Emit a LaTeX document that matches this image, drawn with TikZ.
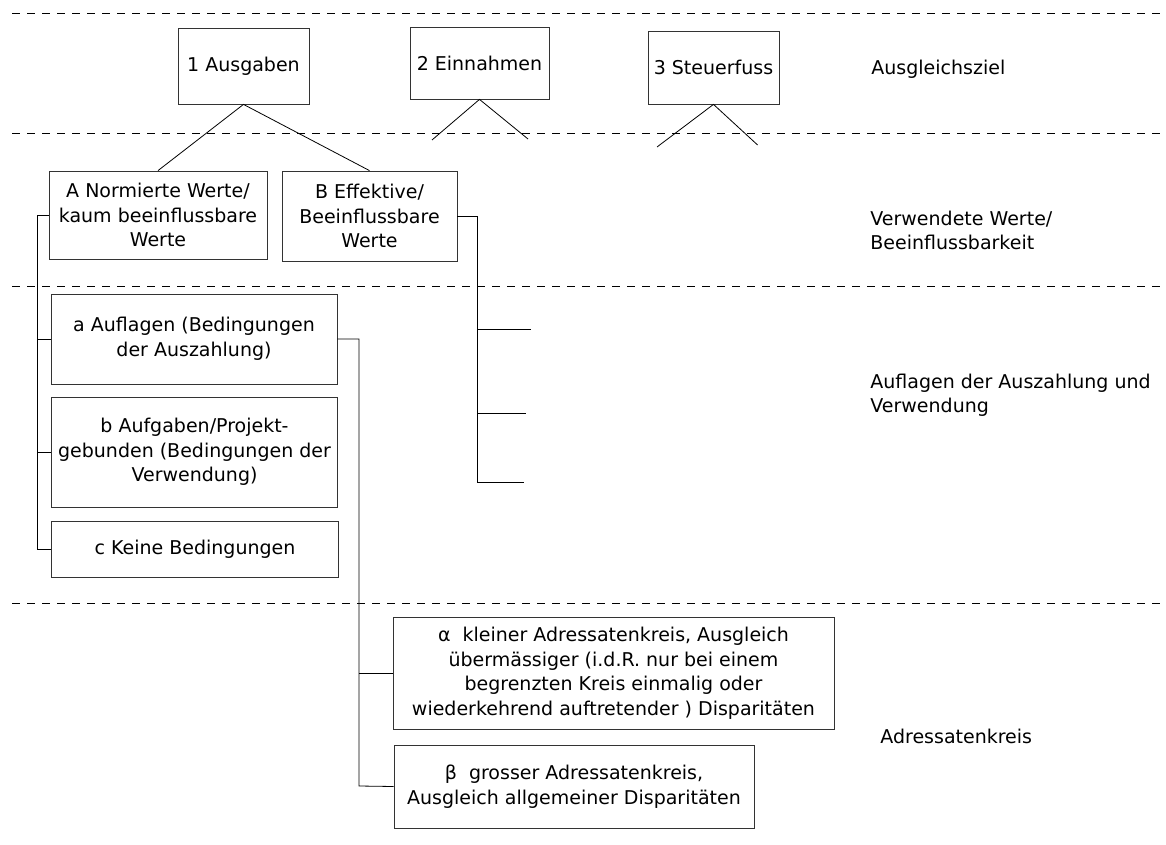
\documentclass[tikz,border=0pt]{standalone}
\usepackage{fontspec}
\setmainfont{DejaVu Sans}
\begin{document}
\begin{tikzpicture}[x=1pt,y=-1pt,line width=.8pt]
  \useasboundingbox (0,0) rectangle (1166,845);

  \foreach \h in {13,133,286,603}
    \draw[dash pattern=on 8pt off 7pt] (12,\h) -- (1166,\h);

  \begin{scope}[every node/.style={rectangle,draw=black!80,inner sep=0pt,align=center,
      font=\fontsize{19}{24.5}\selectfont}]
    \node[minimum width=131pt,minimum height=76pt] (1) at (243.5,66) {1 Ausgaben};
    \node[minimum width=139pt,minimum height=72pt] (2) at (479.5,63) {2 Einnahmen};
    \node[minimum width=131pt,minimum height=73pt] (3) at (713.5,67.5) {3 Steuerfuss};
    \node[minimum width=218pt,minimum height=88pt] (A) at (158,215) {A Normierte Werte/\\kaum beeinflussbare\\Werte};
    \node[minimum width=175pt,minimum height=90pt] (B) at (369.5,216) {B Effektive/\\Beeinflussbare\\Werte};
    \node[minimum width=286pt,minimum height=90pt] (a) at (194,339) {a Auflagen (Bedingungen\\der Auszahlung)};
    \node[minimum width=286pt,minimum height=110pt] (b) at (194.5,452) {b Aufgaben/Projekt-\\gebunden (Bedingungen der\\Verwendung)};
    \node[minimum width=287pt,minimum height=56pt] (c) at (195,549) {c Keine Bedingungen};
    \node[minimum width=441pt,minimum height=112pt] (al) at (613.5,673) {α\ \ kleiner Adressatenkreis, Ausgleich\\übermässiger (i.d.R. nur bei einem\\begrenzten Kreis einmalig oder\\wiederkehrend auftretender ) Disparitäten};
    \node[minimum width=360pt,minimum height=83pt] (be) at (574,786.5) {β\ \ grosser Adressatenkreis,\\Ausgleich allgemeiner Disparitäten};
  \end{scope}

  \begin{scope}[every node/.style={anchor=west,align=left,inner sep=0pt,
      font=\fontsize{19}{24.5}\selectfont}]
    \node (ziel) at (871,69) {Ausgleichsziel};
    \node (werte) at (870,230.5) {Verwendete Werte/\\Beeinflussbarkeit};
    \node (aufl) at (870,395.5) {Auflagen der Auszahlung und\\Verwendung};
    \node (adr) at (880,736) {Adressatenkreis};
  \end{scope}

  \coordinate (2l) at (432,140);
  \coordinate (2r) at (528,139);
  \coordinate (3l) at (657,147);
  \coordinate (3r) at (757.6,145);
  \coordinate (lo) at (37,215);
  \coordinate (lu) at (37,549);
  \coordinate (ro) at (477,216);
  \coordinate (ru) at (477,482);
  \coordinate (r1) at (531,329);
  \coordinate (r2) at (526,413);
  \coordinate (r3) at (523.5,482);
  \coordinate (mo) at (359,339);
  \coordinate (mu) at (359,786);

  \draw (A.north) -- (1.south) -- (B.north);
  \draw (2l) -- (2.south) -- (2r);
  \draw (3l) -- (3.south) -- (3r);

  \draw (A.west) -- (lo) -- (lu) -- (c.west);
  \draw (a.west) -- (a.west -| lo);
  \draw (b.west) -- (b.west -| lo);

  \draw (B.east) -- (ro) -- (ru) -- (r3);
  \draw (r1 -| ro) -- (r1);
  \draw (r2 -| ro) -- (r2);

  \draw (a.east) -- (mo) -- (mu) -- (be.west);
  \draw (al.west -| mo) -- (al.west);

\end{tikzpicture}
\end{document}
